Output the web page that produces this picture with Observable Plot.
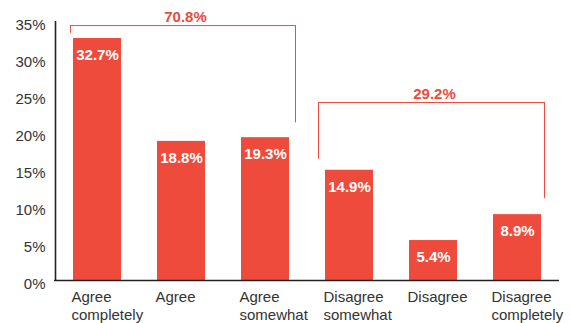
<!DOCTYPE html>
<html>
<head>
<meta charset="utf-8">
<script src="https://cdn.jsdelivr.net/npm/d3@7"></script>
<script src="https://cdn.jsdelivr.net/npm/@observablehq/plot@0.6"></script>
<style>
  html, body { margin: 0; padding: 0; background: #fff; }
  #chart { width: 570px; height: 323px; }
</style>
</head>
<body>
<div id="chart"></div>
<script>
const categories = ["Agree completely", "Agree", "Agree somewhat", "Disagree somewhat", "Disagree", "Disagree completely"];
const tickLabels = ["Agree\ncompletely", "Agree", "Agree\nsomewhat", "Disagree\nsomewhat", "Disagree", "Disagree\ncompletely"];
const values = [32.7, 18.8, 19.3, 14.9, 5.4, 8.9];
const yTicks = [0, 5, 10, 15, 20, 25, 30, 35];

const groupLabels = ["70.8%", "29.2%"];
const groupFirst = ["Agree completely", "Disagree somewhat"];
const groupMid = ["Agree", "Disagree"];
const groupLast = ["Agree somewhat", "Disagree completely"];
const groupTop = [34.45, 24.05];
const groupLeftEnd = [33.4, 16.4];
const groupRightEnd = [21.3, 11.05];

const RED = "#ef4b3c";
const FONT = "'Liberation Sans', Arial, Helvetica, sans-serif";

const data = categories.map((c, i) => ({cat: c, value: values[i], label: tickLabels[i]}));
const groups = groupLabels.map((label, i) => ({
  label, first: groupFirst[i], mid: groupMid[i], last: groupLast[i],
  top: groupTop[i], leftEnd: groupLeftEnd[i], rightEnd: groupRightEnd[i]
}));

// per-bracket drawing offsets (layout only)
const bracketLayout = [
  {insetLeft: -3, insetRight: -6, dxLeft: -27, dxRight: 30, dxLabel: 4},
  {insetLeft: -7, insetRight: -3, dxLeft: -31, dxRight: 27, dxLabel: 1}
];

const bracketMarks = groups.flatMap((g, i) => {
  const L = bracketLayout[i];
  return [
    Plot.ruleY([g], {y: "top", x1: "first", x2: "last", stroke: RED, strokeWidth: 1, insetLeft: L.insetLeft, insetRight: L.insetRight}),
    Plot.ruleX([g], {x: "first", y1: "leftEnd", y2: "top", stroke: RED, strokeWidth: 1, dx: L.dxLeft}),
    Plot.ruleX([g], {x: "last", y1: "rightEnd", y2: "top", stroke: RED, strokeWidth: 1, dx: L.dxRight}),
    Plot.text([g], {x: "mid", y: "top", text: "label", dx: L.dxLabel, dy: -8, fill: RED, fontWeight: "bold", fontSize: 15, fontFamily: FONT})
  ];
});

const chart = Plot.plot({
  width: 570,
  height: 323,
  marginLeft: 54,
  marginRight: 11,
  marginTop: 21,
  marginBottom: 43,
  style: {fontFamily: FONT, background: "#fff", overflow: "visible"},
  x: {domain: categories, paddingInner: 0.4286, paddingOuter: 0.2143, axis: null},
  y: {domain: [0, 35], axis: null},
  marks: [
    Plot.axisY({ticks: yTicks, tickSize: 0, tickPadding: 9, dy: 3.5, tickFormat: d => d + "%", fontSize: 15, fill: "#333", fontFamily: FONT}),
    Plot.axisX({tickSize: 0, tickPadding: 9, tickFormat: (d, i) => tickLabels[categories.indexOf(d)], textAnchor: "start", dx: -26, lineAnchor: "top", lineHeight: 1.2, fontSize: 15, fill: "#333", fontFamily: FONT}),
    Plot.barY(data, {x: "cat", y: "value", fill: RED}),
    Plot.text(data, {x: "cat", y: "value", text: d => d.value.toFixed(1) + "%", dy: 17, fill: "#fff", fontWeight: "bold", fontSize: 15, fontFamily: FONT}),
    Plot.ruleY([0], {stroke: "#222", strokeWidth: 1.6}),
    Plot.ruleX([categories[0]], {y1: 0, y2: 35, dx: -42, stroke: "#222", strokeWidth: 1.6}),
    ...bracketMarks
  ]
});

document.getElementById("chart").appendChild(chart);
</script>
</body>
</html>
